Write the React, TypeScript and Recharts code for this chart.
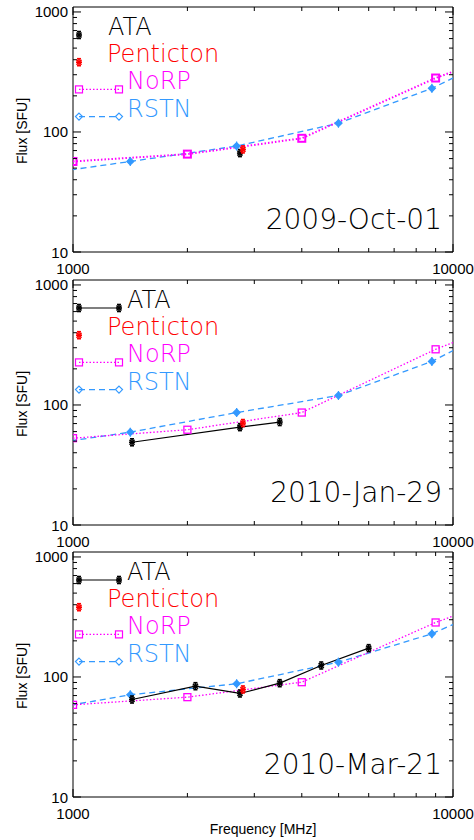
import React from 'react';
import { LineChart, Line, XAxis, YAxis, ReferenceArea } from 'recharts';

// frequencies in MHz, fluxes in SFU
const norpFreq = [1000, 2000, 4000, 9000, 17000];
const rstnFreq = [610, 1415, 2695, 4995, 8800, 15400];
const pentictonFreq = [2800];

const ataFreqOct01 = [2750];
const ataOct01 = [66.7];
const pentictonOct01 = [71.6];
const norpOct01 = [56.8, 65.4, 88.6, 281.6, 586];
const rstnOct01 = [39, 56.8, 76.3, 118.3, 231, 550];

const ataFreqJan29 = [1430, 2750, 3500];
const ataJan29 = [48.9, 65.4, 72.1];
const pentictonJan29 = [70.7];
const norpJan29 = [52.9, 62.2, 86.5, 291, 632];
const rstnJan29 = [40.3, 59.4, 86.5, 120, 230.6, 571];

const ataFreqMar21 = [1430, 2100, 2750, 3500, 4500, 6000];
const ataMar21 = [64.9, 83.8, 72.9, 88.8, 124.7, 173.8];
const pentictonMar21 = [78.7];
const norpMar21 = [58.6, 67.9, 90.5, 284.6, 594];
const rstnMar21 = [44.7, 71.1, 87.8, 132.9, 229, 501];

const xTicks = [1000, 2000, 3000, 4000, 5000, 6000, 7000, 8000, 9000, 10000];
const xLabels = [1000, 10000];
const yTicks = [10, 20, 30, 40, 50, 60, 70, 80, 90, 100, 200, 300, 400, 500, 600, 700, 800, 900, 1000];
const yLabels = [10, 100, 1000];
const legendNames = ['ATA', 'Penticton', 'NoRP', 'RSTN'];

const W = 474;
const PLOT_L = 73;
const PLOT_W = 380;
const PLOT_H = 245;
const PAD = 7;

const BLACK = '#000000';
const RED = '#ff0000';
const MAGENTA = '#ff00ff';
const BLUE = '#3399ff';
const tickFont = "'Liberation Sans', Arial, sans-serif";
const bigFont = "'DejaVu Sans ExtraLight', 'DejaVu Sans', sans-serif";

const pts = (fs: number[], vs: number[]) => fs.map((f, i) => ({ f, v: vs[i] }));

function XTick({ x, y, payload }: any) {
  const major = xLabels.includes(payload.value);
  const len = major ? 8 : 4;
  return (
    <g>
      <line x1={x} y1={y} x2={x} y2={y - len} stroke={BLACK} />
      <line x1={x} y1={y - PLOT_H} x2={x} y2={y - PLOT_H + len} stroke={BLACK} />
      {major && (
        <text x={x} y={y + 22} textAnchor="middle" fontSize={15} fontFamily={tickFont} fill={BLACK}>
          {payload.value}
        </text>
      )}
    </g>
  );
}

function YTick({ x, y, payload }: any) {
  const major = yLabels.includes(payload.value);
  const len = major ? 8 : 4;
  return (
    <g>
      <line x1={x} y1={y} x2={x + len} y2={y} stroke={BLACK} />
      <line x1={x + PLOT_W - len} y1={y} x2={x + PLOT_W} y2={y} stroke={BLACK} />
      {major && (
        <text x={x - 5} y={y + 5.5} textAnchor="end" fontSize={15} fontFamily={tickFont} fill={BLACK}>
          {payload.value}
        </text>
      )}
    </g>
  );
}

// asterisk symbol with a tiny error bar, as IDL psym=2 with errplot
function Star({ cx, cy, color }: { cx: number; cy: number; color: string }) {
  return (
    <g stroke={color} strokeWidth={1.6} fill="none">
      <line x1={cx} y1={cy - 3.5} x2={cx} y2={cy + 3.5} />
      <line x1={cx - 2} y1={cy - 3.5} x2={cx + 2} y2={cy - 3.5} />
      <line x1={cx - 2} y1={cy + 3.5} x2={cx + 2} y2={cy + 3.5} />
      <line x1={cx - 2.5} y1={cy - 2.5} x2={cx + 2.5} y2={cy + 2.5} />
      <line x1={cx - 2.5} y1={cy + 2.5} x2={cx + 2.5} y2={cy - 2.5} />
      <line x1={cx - 3} y1={cy} x2={cx + 3} y2={cy} />
    </g>
  );
}

function Square({ cx, cy, sw }: { cx: number; cy: number; sw: number }) {
  return <rect x={cx - 3.5} y={cy - 3.5} width={7} height={7} fill="none" stroke={MAGENTA} strokeWidth={sw} />;
}

function Diamond({ cx, cy, filled }: { cx: number; cy: number; filled: boolean }) {
  return (
    <g stroke={BLUE} strokeWidth={1.2} fill={filled ? BLUE : 'none'}>
      <path d={`M${cx},${cy - 3.5}L${cx + 3.5},${cy}L${cx},${cy + 3.5}L${cx - 3.5},${cy}Z`} />
      {filled && <line x1={cx} y1={cy - 4.5} x2={cx} y2={cy + 4.5} />}
    </g>
  );
}

function Overlay({ date, ataLine, xTitle }: { date: string; ataLine: boolean; xTitle: boolean }) {
  const base = (i: number) => PAD + 28 + 27.2 * i;
  const x0 = 79;
  const x1 = 119;
  return (
    <svg width={W} height={PAD + PLOT_H + (xTitle ? 43 : 28)} style={{ position: 'absolute', left: 0, top: 0, pointerEvents: 'none' }}>
      {ataLine && <line x1={x0} y1={base(0)} x2={x1} y2={base(0)} stroke={BLACK} strokeWidth={1.2} />}
      <Star cx={x0} cy={base(0)} color={BLACK} />
      {ataLine && <Star cx={x1} cy={base(0)} color={BLACK} />}
      <Star cx={x0} cy={base(1)} color={RED} />
      <line x1={x0} y1={base(2)} x2={x1} y2={base(2)} stroke={MAGENTA} strokeWidth={1.3} strokeDasharray="1.5 2" />
      <Square cx={x0} cy={base(2)} sw={1.2} />
      <Square cx={x1} cy={base(2)} sw={1.2} />
      <line x1={x0} y1={base(3)} x2={x1} y2={base(3)} stroke={BLUE} strokeWidth={1.3} strokeDasharray="6 4" />
      <Diamond cx={x0} cy={base(3)} filled={false} />
      <Diamond cx={x1} cy={base(3)} filled={false} />
      <g fontFamily={bigFont} fontWeight={200} fontSize={24}>
        <text x={ataLine ? 127 : 108} y={base(0)} fill={BLACK}>{legendNames[0]}</text>
        <text x={107} y={base(1)} fill={RED}>{legendNames[1]}</text>
        <text x={127} y={base(2)} fill={MAGENTA}>{legendNames[2]}</text>
        <text x={127} y={base(3)} fill={BLUE}>{legendNames[3]}</text>
      </g>
      <text x={442} y={PAD + 221.5} textAnchor="end" fontFamily={bigFont} fontWeight={200} fontSize={28} fill={BLACK}>
        {date}
      </text>
      <text
        transform={`translate(22, ${PAD + 124}) rotate(-90)`}
        textAnchor="middle"
        dominantBaseline="central"
        fontFamily={tickFont}
        fontSize={14}
        fill={BLACK}
      >
        Flux [SFU]
      </text>
      {xTitle && (
        <text x={PLOT_L + PLOT_W / 2} y={PAD + PLOT_H + 37} textAnchor="middle" fontFamily={tickFont} fontSize={14} fill={BLACK}>
          Frequency [MHz]
        </text>
      )}
    </svg>
  );
}

type PanelProps = {
  top: number;
  date: string;
  ataF: number[];
  ata: number[];
  pent: number[];
  norp: number[];
  rstn: number[];
  norpWidth: number;
  xTitle?: boolean;
};

function Panel({ top, date, ataF, ata, pent, norp, rstn, norpWidth, xTitle = false }: PanelProps) {
  const xh = xTitle ? 43 : 28;
  const h = PAD + PLOT_H + xh;
  return (
    <div style={{ position: 'absolute', left: 0, top: top - PAD, width: W, height: h }}>
      <LineChart width={W} height={h} margin={{ top: PAD, right: W - PLOT_L - PLOT_W, bottom: 0, left: 0 }}>
        <XAxis
          type="number"
          dataKey="f"
          scale="log"
          domain={[1000, 10000]}
          allowDataOverflow
          ticks={xTicks}
          interval={0}
          tick={<XTick />}
          tickLine={false}
          axisLine={false}
          tickSize={0}
          tickMargin={0}
          height={xh}
        />
        <YAxis
          type="number"
          dataKey="v"
          scale="log"
          domain={[10, 1100]}
          allowDataOverflow
          ticks={yTicks}
          interval={0}
          tick={<YTick />}
          tickLine={false}
          axisLine={false}
          tickSize={0}
          tickMargin={0}
          width={PLOT_L}
        />
        <ReferenceArea x1={1000} x2={10000} y1={10} y2={1100} fill="none" fillOpacity={0} stroke={BLACK} strokeWidth={1} />
        <Line
          data={pts(rstnFreq, rstn)}
          dataKey="v"
          stroke={BLUE}
          strokeWidth={1.3}
          strokeDasharray="6 4"
          dot={(p: any) => <Diamond key={`r${p.index}`} cx={p.cx} cy={p.cy} filled />}
          isAnimationActive={false}
        />
        <Line
          data={pts(norpFreq, norp)}
          dataKey="v"
          stroke={MAGENTA}
          strokeWidth={norpWidth}
          strokeDasharray="1.5 2"
          dot={(p: any) => <Square key={`n${p.index}`} cx={p.cx} cy={p.cy} sw={norpWidth} />}
          isAnimationActive={false}
        />
        <Line
          data={pts(ataF, ata)}
          dataKey="v"
          stroke={BLACK}
          strokeWidth={1.2}
          dot={(p: any) => <Star key={`a${p.index}`} cx={p.cx} cy={p.cy} color={BLACK} />}
          isAnimationActive={false}
        />
        <Line
          data={pts(pentictonFreq, pent)}
          dataKey="v"
          stroke="none"
          dot={(p: any) => <Star key={`p${p.index}`} cx={p.cx} cy={p.cy} color={RED} />}
          isAnimationActive={false}
        />
      </LineChart>
      <Overlay date={date} ataLine={ataF.length > 1} xTitle={xTitle} />
    </div>
  );
}

export default function App() {
  return (
    <div style={{ position: 'absolute', left: 0, top: 0, width: W, height: 840, overflow: 'hidden', background: '#fff' }}>
      <Panel top={7} date="2009-Oct-01" ataF={ataFreqOct01} ata={ataOct01} pent={pentictonOct01} norp={norpOct01} rstn={rstnOct01} norpWidth={2} />
      <Panel top={280} date="2010-Jan-29" ataF={ataFreqJan29} ata={ataJan29} pent={pentictonJan29} norp={norpJan29} rstn={rstnJan29} norpWidth={1.3} />
      <Panel top={552} date="2010-Mar-21" ataF={ataFreqMar21} ata={ataMar21} pent={pentictonMar21} norp={norpMar21} rstn={rstnMar21} norpWidth={1.3} xTitle />
    </div>
  );
}
